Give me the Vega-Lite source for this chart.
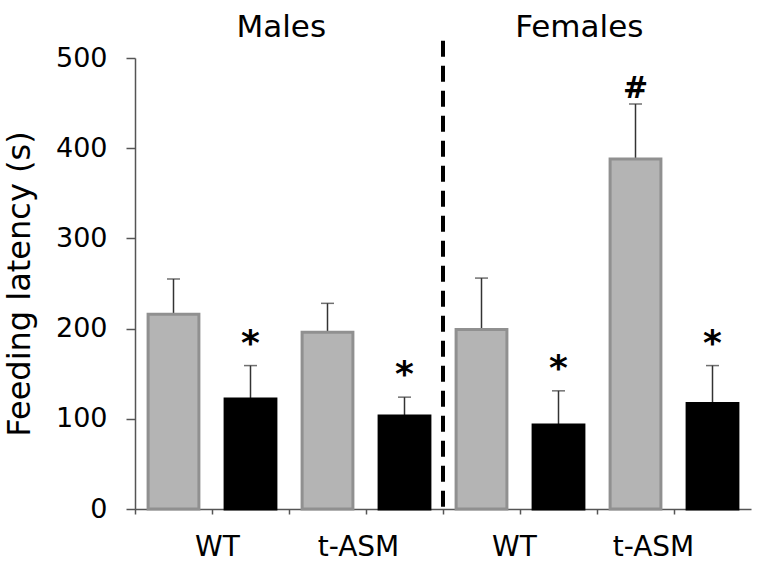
{
  "$schema": "https://vega.github.io/schema/vega-lite/v6.json",
  "width": 616,
  "height": 451,
  "autosize": "none",
  "padding": {"left": 135, "top": 58, "right": 14, "bottom": 54},
  "background": "white",
  "config": {
    "font": "DejaVu Sans",
    "view": {"stroke": null},
    "axis": {"grid": false, "domainColor": "#555555", "tickColor": "#555555", "domainWidth": 1.5, "tickWidth": 1.5, "labelColor": "#000000", "titleColor": "#000000"}
  },
  "data": {
    "values": [
      {"sex": "Males", "genotype": "WT", "group": "vehicle", "bar": "Males|WT|vehicle", "mean": 216, "upper": 255, "sig": ""},
      {"sex": "Males", "genotype": "WT", "group": "treated", "bar": "Males|WT|treated", "mean": 122, "upper": 159, "sig": "*"},
      {"sex": "Males", "genotype": "t-ASM", "group": "vehicle", "bar": "Males|t-ASM|vehicle", "mean": 196, "upper": 228, "sig": ""},
      {"sex": "Males", "genotype": "t-ASM", "group": "treated", "bar": "Males|t-ASM|treated", "mean": 103, "upper": 124, "sig": "*"},
      {"sex": "Females", "genotype": "WT", "group": "vehicle", "bar": "Females|WT|vehicle", "mean": 199, "upper": 256, "sig": ""},
      {"sex": "Females", "genotype": "WT", "group": "treated", "bar": "Females|WT|treated", "mean": 93, "upper": 131, "sig": "*"},
      {"sex": "Females", "genotype": "t-ASM", "group": "vehicle", "bar": "Females|t-ASM|vehicle", "mean": 388, "upper": 449, "sig": "#"},
      {"sex": "Females", "genotype": "t-ASM", "group": "treated", "bar": "Females|t-ASM|treated", "mean": 117, "upper": 159, "sig": "*"}
    ]
  },
  "encoding": {
    "x": {
      "field": "bar", "type": "nominal", "sort": null,
      "scale": {"paddingInner": 0, "paddingOuter": 0},
      "axis": {
        "title": null, "bandPosition": 0, "labelAngle": 0, "labelFontSize": 28,
        "tickSize": 5, "labelPadding": 19, "labelOverlap": false,
        "labelOffset": {"condition": [
          {"test": "datum.value == 'Males|WT|treated'", "value": -33},
          {"test": "datum.value == 'Males|t-ASM|treated'", "value": -46},
          {"test": "datum.value == 'Females|WT|treated'", "value": -44}
        ], "value": -59},
        "labelExpr": "indexof(datum.value, 'treated') >= 0 ? split(datum.value, '|')[1] : ''"
      }
    }
  },
  "layer": [
    {
      "mark": {"type": "rule", "strokeWidth": 1.5, "color": "#333333"},
      "encoding": {
        "y": {"field": "mean", "type": "quantitative", "scale": {"domain": [0, 500]},
          "axis": {"values": [0, 100, 200, 300, 400, 500], "title": "Feeding latency (s)", "titleFontSize": 32, "titleFontWeight": "normal", "titlePadding": 19, "labelFontSize": 27, "tickSize": 9, "labelPadding": 19}},
        "y2": {"field": "upper"}
      }
    },
    {
      "mark": {"type": "tick", "thickness": 1.5, "size": 13, "color": "#333333"},
      "encoding": {"y": {"field": "upper", "type": "quantitative"}}
    },
    {
      "mark": {"type": "bar", "width": {"band": 0.66}, "strokeWidth": 3},
      "encoding": {
        "y": {"field": "mean", "type": "quantitative"},
        "color": {"field": "group", "type": "nominal", "scale": {"domain": ["vehicle", "treated"], "range": ["#b4b4b4", "#000000"]}, "legend": null},
        "stroke": {"field": "group", "type": "nominal", "scale": {"domain": ["vehicle", "treated"], "range": ["#909090", "#000000"]}, "legend": null}
      }
    },
    {
      "transform": [{"filter": "datum.sig == '*'"}],
      "mark": {"type": "text", "fontSize": 36, "fontWeight": "bold", "baseline": "alphabetic", "dy": -11, "color": "#000000"},
      "encoding": {"y": {"field": "upper", "type": "quantitative"}, "text": {"field": "sig"}}
    },
    {
      "transform": [{"filter": "datum.sig == '#'"}],
      "mark": {"type": "text", "fontSize": 30, "fontWeight": "bold", "baseline": "alphabetic", "dy": -6, "color": "#000000"},
      "encoding": {"y": {"field": "upper", "type": "quantitative"}, "text": {"field": "sig"}}
    },
    {
      "data": {"values": [{}]},
      "mark": {"type": "rule", "strokeWidth": 4, "strokeDash": [16, 9], "color": "#000000", "clip": false},
      "encoding": {
        "x": {"datum": "Females|WT|vehicle", "bandPosition": 0},
        "y": {"datum": 519},
        "y2": {"datum": 0}
      }
    },
    {
      "data": {"values": [{}]},
      "mark": {"type": "text", "fontSize": 31, "baseline": "alphabetic", "color": "#000000"},
      "encoding": {
        "x": {"datum": "Males|WT|treated", "bandPosition": 0.9},
        "y": {"datum": 523},
        "text": {"value": "Males"}
      }
    },
    {
      "data": {"values": [{}]},
      "mark": {"type": "text", "fontSize": 31, "baseline": "alphabetic", "color": "#000000"},
      "encoding": {
        "x": {"datum": "Females|WT|treated", "bandPosition": 0.77},
        "y": {"datum": 523},
        "text": {"value": "Females"}
      }
    }
  ]
}
